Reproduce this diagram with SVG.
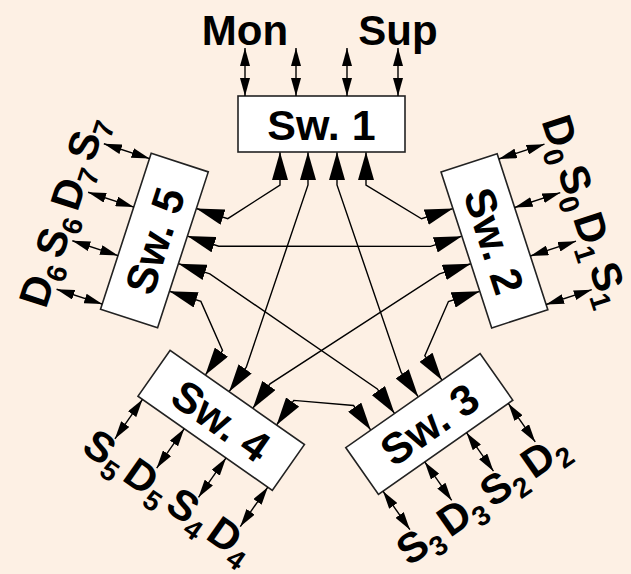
<svg xmlns="http://www.w3.org/2000/svg" width="631" height="574" viewBox="0 0 631 574">
<defs>
<style>
.bg{fill:#FDF0E4}
.box{fill:#fff;stroke:#222;stroke-width:1.6}
.t{font-family:"Liberation Sans",Arial,sans-serif;font-weight:bold;fill:#000;text-anchor:middle}
.sw{font-size:43px}
.io{font-size:42px}
.sub{font-size:28px}
.con{fill:none;stroke:#000;stroke-width:1.4;marker-start:url(#big);marker-end:url(#big)}
.ext{fill:none;stroke:#000;stroke-width:1.4;marker-start:url(#sm);marker-end:url(#sm)}
</style>
<marker id="big" viewBox="0 0 28 16" refX="28" refY="8" markerWidth="28" markerHeight="16" markerUnits="userSpaceOnUse" orient="auto-start-reverse"><path d="M0,0 L28,8 L0,16 z" fill="#000"/></marker>
<marker id="sm" viewBox="0 0 18 10" refX="18" refY="5" markerWidth="18" markerHeight="10" markerUnits="userSpaceOnUse" orient="auto-start-reverse"><path d="M0,0 L18,5 L0,10 z" fill="#000"/></marker>
</defs>
<rect class="bg" x="0" y="0" width="631" height="574"/>

<g id="connectors">
<path class="con" d="M280,152 L280,185 L227.75,218.68 L196.37,208.48"/>
<path class="con" d="M308,152 L308,185 L246.28,367.15 L229.07,391.72"/>
<path class="con" d="M337,152 L337,185 L401.06,372.26 L418.27,396.83"/>
<path class="con" d="M366,152 L366,185 L421.55,218.78 L452.93,208.58"/>
<path class="con" d="M461.89,236.16 L430.51,246.36 L218.79,246.26 L187.41,236.06"/>
<path class="con" d="M470.85,263.74 L439.47,273.94 L270.04,383.79 L252.83,408.36"/>
<path class="con" d="M479.81,291.32 L448.43,301.52 L424.81,355.63 L442.02,380.20"/>
<path class="con" d="M178.45,263.64 L209.83,273.84 L377.30,388.90 L394.51,413.47"/>
<path class="con" d="M169.49,291.22 L200.87,301.42 L222.53,350.52 L205.32,375.09"/>
<path class="con" d="M276.58,424.99 L293.79,400.42 L353.55,405.53 L370.76,430.10"/>
</g>

<g id="sw1" transform="translate(321.5,124)">
<rect class="box" x="-83.5" y="-28" width="167" height="56"/>
<text class="t sw" x="0" y="15.5">Sw. 1</text>
<path class="ext" d="M-76.5,-28 V-76"/>
<path class="ext" d="M-25.5,-28 V-76"/>
<path class="ext" d="M25.5,-28 V-76"/>
<path class="ext" d="M76.5,-28 V-76"/>
<text class="t io" x="-76.5" y="-79">Mon</text>
<text class="t io" x="76.5" y="-79">Sup</text>
</g>

<g id="sw2" transform="translate(493,241.3) rotate(72)">
<rect class="box" x="-82" y="-31" width="164" height="59"/>
<text class="t sw" x="0" y="14">Sw. 2</text>
<path class="ext" d="M-76.5,-31 V-79"/>
<path class="ext" d="M-25.5,-31 V-79"/>
<path class="ext" d="M25.5,-31 V-79"/>
<path class="ext" d="M76.5,-31 V-79"/>
<text class="t io" x="-76.5" y="-83">D<tspan class="sub" dy="9">0</tspan></text>
<text class="t io" x="-25.5" y="-83">S<tspan class="sub" dy="9">0</tspan></text>
<text class="t io" x="25.5" y="-83">D<tspan class="sub" dy="9">1</tspan></text>
<text class="t io" x="76.5" y="-83">S<tspan class="sub" dy="9">1</tspan></text>
</g>

<g id="sw3" transform="translate(429,423.5) rotate(-35)">
<rect class="box" x="-82" y="-28" width="164" height="57"/>
<text class="t sw" x="0" y="16">Sw. 3</text>
<path class="ext" d="M-76.5,29 V76"/>
<path class="ext" d="M-25.5,29 V76"/>
<path class="ext" d="M25.5,29 V76"/>
<path class="ext" d="M76.5,29 V76"/>
<text class="t io" x="-76.5" y="106">S<tspan class="sub" dy="9">3</tspan></text>
<text class="t io" x="-25.5" y="106">D<tspan class="sub" dy="9">3</tspan></text>
<text class="t io" x="25.5" y="106">S<tspan class="sub" dy="9">2</tspan></text>
<text class="t io" x="76.5" y="106">D<tspan class="sub" dy="9">2</tspan></text>
</g>

<g id="sw4" transform="translate(221.2,420.4) rotate(35)">
<rect class="box" x="-82" y="-28" width="164" height="56"/>
<text class="t sw" x="0" y="15.5">Sw. 4</text>
<path class="ext" d="M-76.5,28 V76"/>
<path class="ext" d="M-25.5,28 V76"/>
<path class="ext" d="M25.5,28 V76"/>
<path class="ext" d="M76.5,28 V76"/>
<text class="t io" x="-76.5" y="106">S<tspan class="sub" dy="9">5</tspan></text>
<text class="t io" x="-25.5" y="106">D<tspan class="sub" dy="9">5</tspan></text>
<text class="t io" x="25.5" y="106">S<tspan class="sub" dy="9">4</tspan></text>
<text class="t io" x="76.5" y="106">D<tspan class="sub" dy="9">4</tspan></text>
</g>

<g id="sw5" transform="translate(156.3,241.2) rotate(-72)">
<rect class="box" x="-82" y="-32" width="164" height="60"/>
<text class="t sw" x="0" y="13.5">Sw. 5</text>
<path class="ext" d="M-76.5,-32 V-80"/>
<path class="ext" d="M-25.5,-32 V-80"/>
<path class="ext" d="M25.5,-32 V-80"/>
<path class="ext" d="M76.5,-32 V-80"/>
<text class="t io" x="-76.5" y="-84">D<tspan class="sub" dy="9">6</tspan></text>
<text class="t io" x="-25.5" y="-84">S<tspan class="sub" dy="9">6</tspan></text>
<text class="t io" x="25.5" y="-84">D<tspan class="sub" dy="9">7</tspan></text>
<text class="t io" x="76.5" y="-84">S<tspan class="sub" dy="9">7</tspan></text>
</g>
</svg>
